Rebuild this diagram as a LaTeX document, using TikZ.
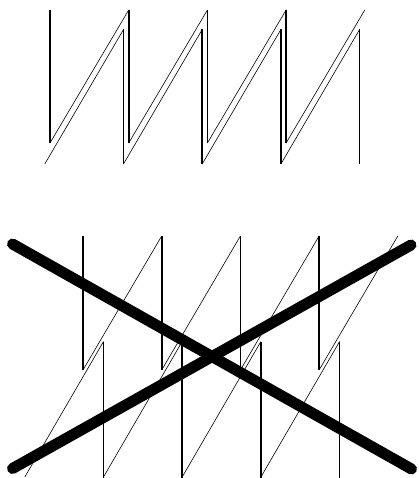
\documentclass[tikz,border=0pt]{standalone}
\begin{document}
\begin{tikzpicture}[x=1pt,y=-1pt,
  vline/.style={line width=1.6pt,black},
  dline/.style={line width=0.6pt,black},
  bar/.style={line width=11pt,black,line cap=round}]
\useasboundingbox (0,0) rectangle (418,478);
\def\sp{78.7}
% trace A (top, first): vertical then diagonal
\foreach \i in {0,1,2,3}{
  \pgfmathsetmacro{\xa}{50+\sp*\i}
  \pgfmathsetmacro{\xb}{50+\sp*(\i+1)}
  \draw[vline] (\xa,10) -- (\xa,143);
  \draw[dline] (\xa,143) -- (\xb,10);
}
% trace B (top, second): diagonal then vertical
\foreach \i in {0,1,2,3}{
  \pgfmathsetmacro{\xa}{44.8+\sp*\i}
  \pgfmathsetmacro{\xb}{44.8+\sp*(\i+1)}
  \draw[dline] (\xa,164) -- (\xb,29.5);
  \draw[vline] (\xb,29.5) -- (\xb,164);
}
% trace C (bottom, first)
\foreach \i in {0,1,2,3}{
  \pgfmathsetmacro{\xa}{83+\sp*\i}
  \pgfmathsetmacro{\xb}{83+\sp*(\i+1)}
  \draw[vline] (\xa,236) -- (\xa,370);
  \draw[dline] (\xa,370) -- (\xb,236);
}
% trace D (bottom, second)
\foreach \i in {0,1,2,3}{
  \pgfmathsetmacro{\xa}{24.8+\sp*\i}
  \pgfmathsetmacro{\xb}{24.8+\sp*(\i+1)}
  \draw[dline] (\xa,477) -- (\xb,341.5);
  \draw[vline] (\xb,341.5) -- (\xb,478);
}
% the big cross
\coordinate (tl) at (12.5,244);
\coordinate (br) at (411.5,469);
\coordinate (bl) at (12.5,468.5);
\coordinate (tr) at (411,245);
\draw[bar] (tl) -- (br);
\draw[bar] (bl) -- (tr);
\end{tikzpicture}
\end{document}
